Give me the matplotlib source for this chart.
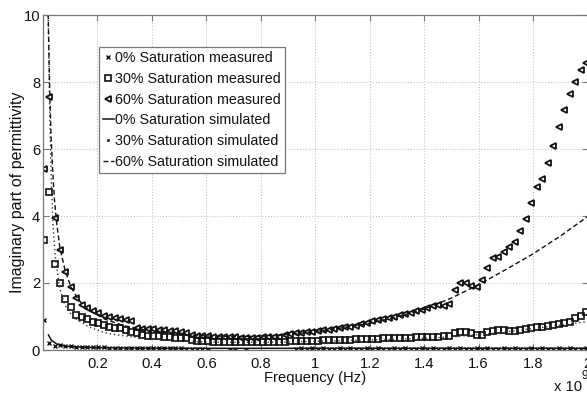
import numpy as np
import matplotlib
matplotlib.use("Agg")
import matplotlib.pyplot as plt
from matplotlib.lines import Line2D

# ---------------------------------------------------------------- data
# Frequency sweep of the measurements (Hz)
SWEEP_START = 0.002e9
SWEEP_STOP = 1.995e9
SWEEP_POINTS = 100
freq = np.linspace(SWEEP_START, SWEEP_STOP, SWEEP_POINTS)

# Measured imaginary permittivity, one value per sweep point
meas_0 = [
    0.90, 0.20, 0.12, 0.15, 0.12, 0.13, 0.10, 0.10, 0.09, 0.08,
    0.08, 0.08, 0.07, 0.07, 0.07, 0.06, 0.06, 0.06, 0.05, 0.05,
    0.05, 0.05, 0.05, 0.05, 0.05, 0.05, 0.04, 0.04, 0.04, 0.03,
    0.00, -0.20, -0.20, -0.20, 0.00, 0.00, -0.20, 0.00, -0.20, -0.20,
    -0.20, -0.20, -0.20, -0.20, -0.20, -0.20, 0.04, 0.05, 0.04, 0.05,
    0.04, 0.05, 0.04, 0.04, 0.05, 0.04, 0.05, 0.04, 0.04, 0.05,
    0.04, 0.05, 0.04, 0.04, 0.05, 0.04, 0.05, 0.04, 0.04, 0.05,
    0.04, 0.05, 0.04, 0.04, 0.05, 0.04, 0.05, 0.04, 0.04, 0.05,
    0.04, 0.05, 0.04, 0.04, 0.05, 0.04, 0.05, 0.04, 0.04, 0.05,
    0.04, 0.05, 0.04, 0.04, 0.05, 0.04, 0.05, 0.04, 0.04, 0.05,
]
meas_30 = [
    3.28, 4.73, 2.57, 2.00, 1.53, 1.28, 1.04, 0.98, 0.92, 0.85,
    0.80, 0.75, 0.70, 0.67, 0.65, 0.60, 0.55, 0.50, 0.45, 0.43,
    0.42, 0.41, 0.40, 0.38, 0.37, 0.36, 0.35, 0.30, 0.28, 0.27,
    0.26, 0.25, 0.25, 0.25, 0.24, 0.24, 0.24, 0.24, 0.24, 0.25,
    0.25, 0.25, 0.25, 0.25, 0.25, 0.26, 0.26, 0.27, 0.27, 0.28,
    0.28, 0.29, 0.29, 0.30, 0.30, 0.31, 0.31, 0.32, 0.32, 0.33,
    0.34, 0.34, 0.35, 0.35, 0.36, 0.36, 0.37, 0.37, 0.38, 0.38,
    0.39, 0.40, 0.40, 0.41, 0.41, 0.52, 0.55, 0.55, 0.50, 0.45,
    0.45, 0.53, 0.57, 0.60, 0.60, 0.58, 0.58, 0.60, 0.62, 0.67,
    0.68, 0.70, 0.72, 0.75, 0.78, 0.82, 0.85, 0.95, 1.01, 1.14,
]
meas_60 = [
    5.39, 7.56, 3.93, 3.00, 2.34, 1.87, 1.54, 1.34, 1.24, 1.16,
    1.10, 1.02, 0.99, 0.95, 0.92, 0.90, 0.87, 0.65, 0.63, 0.62,
    0.62, 0.61, 0.60, 0.58, 0.57, 0.55, 0.52, 0.45, 0.43, 0.42,
    0.41, 0.40, 0.40, 0.39, 0.38, 0.38, 0.37, 0.37, 0.37, 0.37,
    0.38, 0.38, 0.38, 0.40, 0.45, 0.48, 0.50, 0.52, 0.54, 0.55,
    0.57, 0.59, 0.61, 0.63, 0.65, 0.68, 0.70, 0.73, 0.77, 0.81,
    0.86, 0.89, 0.92, 0.95, 0.99, 1.03, 1.07, 1.11, 1.16, 1.20,
    1.25, 1.30, 1.33, 1.30, 1.38, 1.79, 1.99, 1.99, 1.91, 1.89,
    2.09, 2.44, 2.74, 2.77, 2.92, 3.08, 3.23, 3.55, 3.90, 4.40,
    4.87, 5.10, 5.57, 6.09, 6.65, 7.16, 7.64, 8.01, 8.36, 8.58,
]

# Simulated curves (frequency in GHz, imaginary permittivity)
sim0_f = [0.02, 0.03, 0.05, 0.08, 0.12, 0.20, 0.30, 0.50, 1.00, 1.50, 2.00]
sim0_v = [0.45, 0.30, 0.18, 0.12, 0.09, 0.07, 0.06, 0.05, 0.05, 0.05, 0.05]

sim30_f = [0.018, 0.025, 0.030, 0.037, 0.045, 0.061, 0.080, 0.110, 0.170,
           0.234, 0.30, 0.40, 0.50, 0.60, 0.70, 0.80, 0.90, 1.00, 1.10,
           1.20, 1.30, 1.40, 1.50, 1.60, 1.70, 1.80, 1.90, 2.00]
sim30_v = [10.5, 6.9, 5.2, 3.7, 2.8, 1.85, 1.35, 0.98, 0.68,
           0.50, 0.42, 0.33, 0.27, 0.24, 0.23, 0.23, 0.24, 0.26, 0.28,
           0.30, 0.32, 0.35, 0.39, 0.46, 0.54, 0.64, 0.74, 0.85]

sim60_f = [0.017, 0.020, 0.025, 0.030, 0.036, 0.042, 0.050, 0.062, 0.082,
           0.103, 0.13, 0.17, 0.227, 0.30, 0.40, 0.50, 0.60, 0.70, 0.80,
           0.90, 1.00, 1.10, 1.20, 1.30, 1.40, 1.50, 1.60, 1.70, 1.80,
           1.90, 2.00]
sim60_v = [11.0, 9.6, 7.6, 6.3, 5.3, 4.5, 3.8, 3.05, 2.35,
           1.88, 1.50, 1.18, 0.92, 0.72, 0.56, 0.47, 0.42, 0.40, 0.41,
           0.46, 0.55, 0.66, 0.80, 0.99, 1.22, 1.55, 1.95, 2.40, 2.87,
           3.40, 3.98]

x_ticks = [0.2, 0.4, 0.6, 0.8, 1.0, 1.2, 1.4, 1.6, 1.8, 2.0]
x_tick_labels = ["0.2", "0.4", "0.6", "0.8", "1", "1.2", "1.4", "1.6", "1.8", "2"]
y_ticks = [0, 2, 4, 6, 8, 10]

labels = ["0% Saturation measured", "30% Saturation measured",
          "60% Saturation measured", "0% Saturation simulated",
          "30% Saturation simulated", "60% Saturation simulated"]

# ---------------------------------------------------------------- style
plt.rcParams["font.family"] = ["Liberation Sans", "DejaVu Sans"]
TXT = 10.6
LEG_TXT = 10.3

W, H = 587, 396
fig = plt.figure(figsize=(W / 100, H / 100), dpi=100)
ax = fig.add_axes([43 / W, (H - 350) / H, 544.5 / W, 335 / H])

black = "#111111"
ax.plot(freq, meas_0, ls="none", marker="x", ms=3.2, mew=1.0, color=black)
ax.plot(freq, meas_30, ls="none", marker="s", ms=4.0, mew=1.2, mfc="none", mec=black)
ax.plot(freq, meas_60, ls="none", marker="<", ms=5.0, mew=1.3, mfc="none", mec=black)
ax.plot(np.array(sim0_f) * 1e9, sim0_v, ls="-", lw=1.1, color=black)
ax.plot(np.array(sim30_f) * 1e9, sim30_v, ls=(0, (1, 2)), lw=1.0, color="#333333")
ax.plot(np.array(sim60_f) * 1e9, sim60_v, ls=(0, (3.5, 2)), lw=1.0, color=black)

ax.set_xlim(0, 2e9)
ax.set_ylim(0, 10)
ax.set_xticks(np.array(x_ticks) * 1e9)
ax.set_xticklabels(x_tick_labels)
ax.set_yticks(y_ticks)
ax.set_yticklabels([str(v) for v in y_ticks])

frame = "#777777"
for s in ax.spines.values():
    s.set_color(frame)
    s.set_linewidth(0.9)
ax.tick_params(direction="in", length=4, width=0.8, color=frame,
               top=True, right=True, labelsize=TXT, labelcolor=black)
ax.tick_params(axis="y", pad=2)
ax.tick_params(axis="x", pad=5)
ax.grid(True, color="#bbbbbb", lw=0.7, ls=(0, (1, 2)))

ax.set_xlabel("Frequency (Hz)", fontsize=TXT, color=black)
ax.xaxis.set_label_coords(0.5, -(378 - 350) / 335)
ax.xaxis.label.set_va("center")
ax.set_ylabel("Imaginary part of permittivity", fontsize=11.5, color=black)
ax.yaxis.set_label_coords(-(43 - 18) / 544.5, (350 - 192) / 335)
ax.yaxis.label.set_va("center")

# exponent of the frequency axis
fig.text(554 / W, 1 - 387 / H, "x 10", fontsize=TXT, va="center", ha="left", color=black)
fig.text(581 / W, 1 - 376 / H, "9", fontsize=TXT * 0.8, va="center", ha="left", color=black)

# legend
lines = ax.get_lines()
handles = [lines[0], lines[1], lines[2], lines[3],
           Line2D([], [], ls="none", marker=".", ms=2.5, color="#333333"),
           lines[5]]
leg = ax.legend(handles, labels, loc="upper left",
                bbox_to_anchor=((99 - 43) / 544.5, (350 - 47.3) / 335),
                fontsize=LEG_TXT, frameon=True, fancybox=False, framealpha=1,
                edgecolor=frame, borderpad=0.25, labelspacing=0.48,
                handlelength=0.8, handletextpad=0.1, borderaxespad=0,
                numpoints=1)
leg.get_frame().set_linewidth(0.9)
for t in leg.get_texts():
    t.set_color(black)

fig.savefig("out.png", dpi=100, facecolor="white")
